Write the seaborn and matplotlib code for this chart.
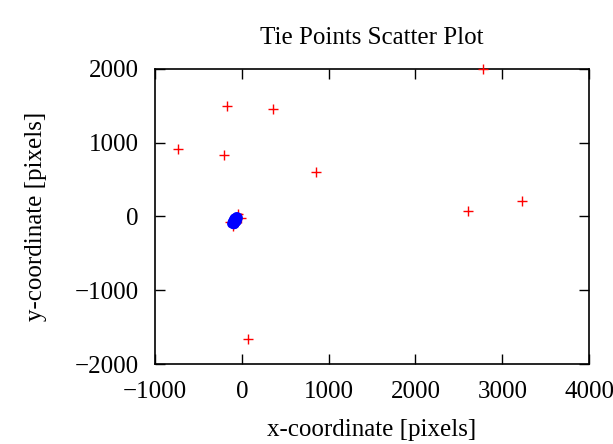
import matplotlib
matplotlib.use("Agg")
import matplotlib.pyplot as plt
import seaborn as sns
import pandas as pd

# Outlier tie points (red)
out_x = [2780, -170, 355, -740, -205, 850, 2610, 3225, 65, -47, -9, -136, -98]
out_y = [2000, 1500, 1450, 910, 830, 600, 80, 215, -1660, 30, -25, -79, -125]

# Inlier tie points (blue), tight cluster
in_x = [-120, -110, -100, -95, -90, -85, -80, -75, -70, -65, -60, -55, -50, -45, -40,
        -105, -92, -78, -66, -52, -88, -72, -58, -112, -98, -84, -68, -62, -48, -80]
in_y = [-100, -90, -75, -60, -95, -50, -80, -30, -65, -20, -45, -10, -35, -5, -25,
        -110, -115, -100, -85, -70, -20, -55, -60, -70, -40, -30, -40, 0, -15, -110]

sns.set_theme(style="white")
plt.rcParams["font.family"] = ["Liberation Serif", "DejaVu Serif"]
plt.rcParams["text.color"] = "black"
plt.rcParams["axes.labelcolor"] = "black"

fig = plt.figure(figsize=(6.13, 4.44), dpi=100)
ax = fig.add_axes([0.253, 0.180, 0.708, 0.665])

df_in = pd.DataFrame({"x": in_x, "y": in_y})
df_out = pd.DataFrame({"x": out_x, "y": out_y})

sns.scatterplot(data=df_out, x="x", y="y", ax=ax, color="#ff0000", marker="+",
                s=60, linewidth=1.0, zorder=3, clip_on=False)
sns.scatterplot(data=df_in, x="x", y="y", ax=ax, color="#0000ff", marker="o",
                s=40, edgecolor="none", zorder=4)

ax.set_xlim(-1000, 4000)
ax.set_ylim(-2000, 2000)
ax.set_xticks([-1000, 0, 1000, 2000, 3000, 4000])
ax.set_yticks([-2000, -1000, 0, 1000, 2000])
ax.set_xticklabels(["\u22121000", "0", "1000", "2000", "3000", "4000"])
ax.set_yticklabels(["\u22122000", "\u22121000", "0", "1000", "2000"])

ax.tick_params(direction="in", length=7, width=1, top=True, right=True,
               bottom=True, left=True, labelsize=18, colors="black")
ax.tick_params(axis="x", pad=12)
ax.tick_params(axis="y", pad=12)
for sp in ax.spines.values():
    sp.set_color("black")
    sp.set_linewidth(1.2)

ax.set_title("Tie Points Scatter Plot", fontsize=18, pad=18, color="black")
ax.set_xlabel("x-coordinate [pixels]", fontsize=18, labelpad=12, color="black")
ax.set_ylabel("y-coordinate [pixels]", fontsize=18, labelpad=20, color="black")

fig.savefig("out.png", dpi=100)
